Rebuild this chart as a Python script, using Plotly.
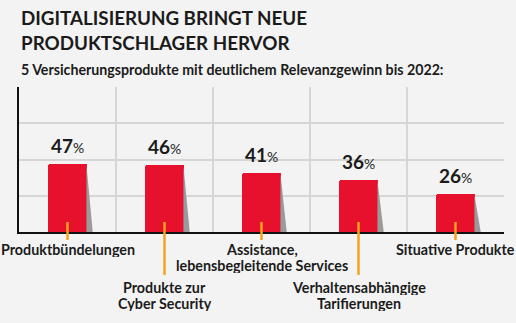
import plotly.graph_objects as go

title_lines = ["DIGITALISIERUNG BRINGT NEUE", "PRODUKTSCHLAGER HERVOR"]
subtitle = "5 Versicherungsprodukte mit deutlichem Relevanzgewinn bis 2022:"
categories = ["Produktbündelungen", "Produkte zur<br>Cyber Security",
              "Assistance,<br>lebensbegleitende Services",
              "Verhaltensabhängige<br>Tarifierungen", "Situative Produkte"]
values = [47, 46, 41, 36, 26]

FONT = "Lato, sans-serif"
RED = "#E8112D"
ORANGE = "#F5A31E"
DARK = "#1b1b1b"
BG = "#f3f3f3"

W, H = 516, 323
ML, MR, MT, MB = 19, 12, 87, 91
PH = H - MT - MB

def py(pix):
    return (H - MB - pix) / PH

xs = list(range(len(values)))
bw = 0.41
fig = go.Figure()

# shadows
for i, v in zip(xs, values):
    r = i + bw / 2
    fig.add_trace(go.Scatter(x=[r - 0.01, r - 0.01, r + 0.055, r - 0.01], y=[v - 0.5, 0, 0, v - 0.5],
                             fill="toself", fillcolor="#9a9a9a", line=dict(width=0),
                             mode="lines", hoverinfo="skip", showlegend=False))

fig.add_trace(go.Bar(x=xs, y=values, width=bw, marker=dict(color=RED, cornerradius=2, line=dict(width=0)),
                     showlegend=False, hoverinfo="skip"))

# value labels
for i, v in zip(xs, values):
    fig.add_annotation(x=i, y=v, xref="x", yref="y", yanchor="bottom", yshift=5,
                       text=f"<b>{v}</b><span style='font-size:14px'>%</span>",
                       showarrow=False, font=dict(family=FONT, size=19, color=DARK))

# category labels and orange leaders
for i, c in zip(xs, categories):
    low = i % 2 == 1
    first_center = 287 if low else 249
    end_pix = 275 if low else 240
    fig.add_shape(type="line", xref="x", yref="paper", x0=i, x1=i, y0=py(222), y1=py(end_pix),
                  line=dict(color=ORANGE, width=2.5))
    for k, line in enumerate(c.split("<br>")):
        fig.add_annotation(x=i, y=py(first_center + 16 * k), xref="x", yref="paper",
                           yanchor="middle", xanchor="center", height=15, borderpad=0,
                           text=f"<b>{line}</b>", showarrow=False,
                           font=dict(family=FONT, size=14.3, color=DARK))

# titles
for k, t in enumerate(title_lines):
    fig.add_annotation(x=0, y=py(18 + 24 * k), xref="paper", yref="paper", xanchor="left", yanchor="middle",
                       text=f"<b>{t}</b>", showarrow=False, font=dict(family=FONT, size=18.8, color=DARK))
fig.add_annotation(x=0, y=py(69), xref="paper", yref="paper", xanchor="left", yanchor="middle",
                   text=f"<b>{subtitle}</b>", showarrow=False, font=dict(family=FONT, size=14.2, color=DARK))

fig.update_layout(
    width=W, height=H, margin=dict(l=ML, r=MR, t=MT, b=MB),
    paper_bgcolor=BG, plot_bgcolor=BG,
    xaxis=dict(range=[-0.5, 4.5], tickvals=[0.5, 1.5, 2.5, 3.5, 4.5], showticklabels=False,
               showgrid=True, gridcolor="#d6d6d6", gridwidth=1.5, zeroline=False,
               showline=True, linecolor="#111", linewidth=2, ticks=""),
    yaxis=dict(range=[0, 100], dtick=25, showticklabels=False, showgrid=True, gridcolor="#d6d6d6",
               gridwidth=1.5, zeroline=False, showline=True, linecolor="#111", linewidth=2, ticks=""),
    bargap=0,
)
fig.write_html("out.html")
